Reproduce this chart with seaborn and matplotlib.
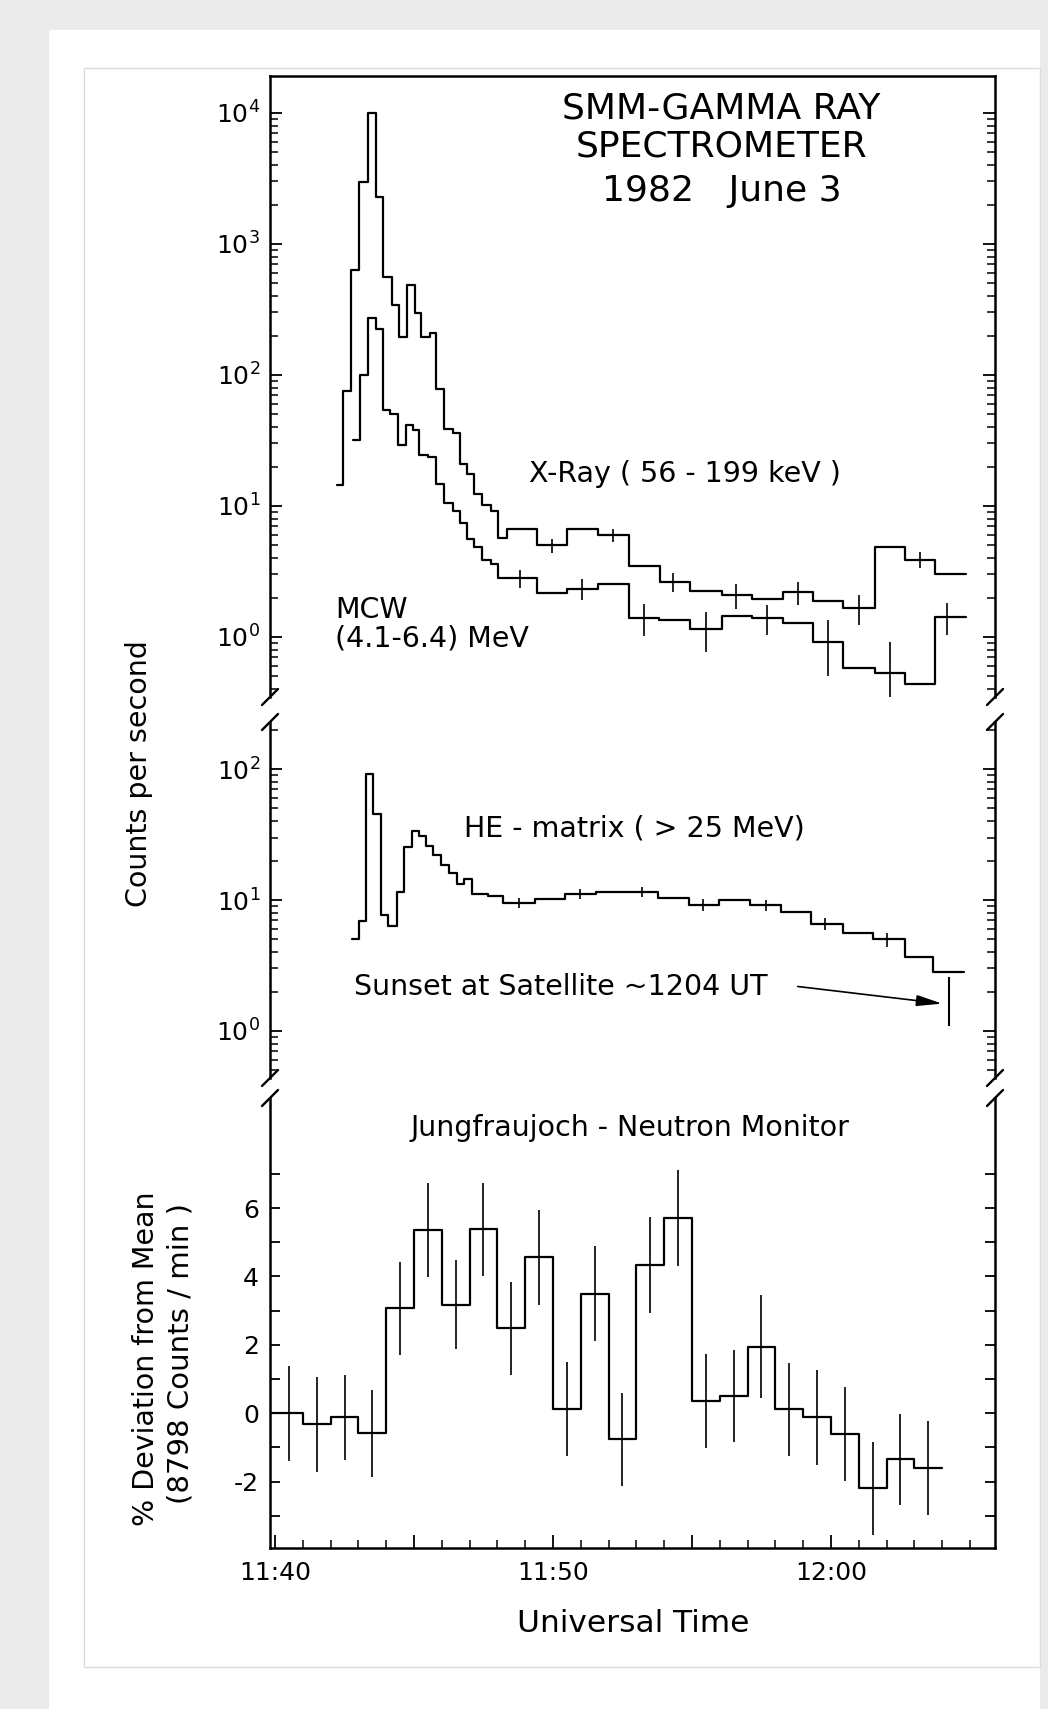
import numpy as np
import pandas as pd
import matplotlib
matplotlib.use("Agg")
import matplotlib.pyplot as plt
import matplotlib.ticker as mticker
from matplotlib.patches import Rectangle
from matplotlib.lines import Line2D
import seaborn as sns

# time axis: minutes after 11:40 UT

# X-Ray (56-199 keV), step edges and counts/s
xray_edges = [2.24, 2.46, 2.72, 3.03, 3.34, 3.63, 3.90, 4.21, 4.47, 4.74, 5.04, 5.25,
              5.58, 5.79, 6.08, 6.39, 6.67, 6.90, 7.17, 7.46, 7.76, 8.03, 8.34, 9.44,
              10.51, 11.63, 12.73, 13.85, 14.93, 16.09, 17.17, 18.28, 19.36, 20.44,
              21.58, 22.66, 23.74, 24.86]
xray_vals = [14.5, 76, 630, 2950, 10000, 2300, 560, 340, 195, 490, 297, 196,
             209, 78, 39, 36, 21, 17.5, 12.3, 10.2, 9.1, 5.7, 6.7, 5.0,
             6.7, 6.0, 3.5, 2.65, 2.24, 2.09, 1.94, 2.19, 1.88, 1.67,
             4.9, 3.9, 3.0]
xray_err_t = [9.95, 12.15, 14.32, 16.57, 18.80, 21.00, 23.20]
xray_err_v = [5.0, 6.0, 2.65, 2.09, 2.19, 1.67, 3.9]
xray_err_s = [0.62, 0.66, 0.45, 0.45, 0.44, 0.44, 0.52]

# MCW (4.1-6.4 MeV)
mcw_edges = [2.80, 3.06, 3.34, 3.63, 3.87, 4.14, 4.44, 4.71, 4.98, 5.19, 5.51, 5.79,
             6.08, 6.39, 6.67, 6.90, 7.17, 7.46, 7.76, 8.03, 9.44, 10.51, 11.63,
             12.75, 13.82, 14.93, 16.09, 17.17, 18.28, 19.36, 20.44, 21.58, 22.66,
             23.74, 24.86]
mcw_vals = [32, 100, 270, 224, 54, 50, 29, 41.5, 38, 24.5, 23.8,
            14.7, 10.5, 9.1, 7.4, 5.6, 4.9, 3.9, 3.6, 2.8, 2.15, 2.33,
            2.52, 1.40, 1.35, 1.16, 1.45, 1.40, 1.29, 0.92, 0.58, 0.53,
            0.44, 1.43]
mcw_err_t = [8.81, 11.03, 13.27, 15.49, 17.69, 19.90, 22.12, 24.16]
mcw_err_v = [2.8, 2.33, 1.40, 1.16, 1.40, 0.92, 0.53, 1.43]
mcw_err_s = [0.44, 0.42, 0.38, 0.39, 0.36, 0.42, 0.38, 0.39]

# HE-matrix (> 25 MeV)
he_edges = [2.78, 3.02, 3.26, 3.54, 3.81, 4.08, 4.40, 4.64, 4.92, 5.18, 5.43, 5.69,
            5.97, 6.27, 6.54, 6.81, 7.10, 7.67, 8.21, 9.35, 10.43, 11.55, 12.66,
            13.79, 14.90, 15.98, 17.09, 18.20, 19.28, 20.42, 21.52, 22.66, 23.68,
            24.78]
he_vals = [5.0, 6.9, 91, 45, 7.7, 6.3, 11.6, 25.5, 33.8, 30.8, 25.8, 22,
           18.6, 16.2, 13.2, 14.5, 11.1, 10.7, 9.5, 10.1, 11.1, 11.6, 11.6,
           10.3, 9.2, 10.0, 9.1, 8.1, 6.6, 5.6, 5.0, 3.7, 2.84]
he_err_t = [8.78, 10.97, 13.20, 15.40, 17.65, 19.80, 22.00]
he_err_v = [9.5, 11.1, 11.6, 9.2, 9.1, 6.6, 5.0]
he_err_s = [0.78, 1.0, 1.0, 0.9, 0.84, 0.66, 0.62]

# Jungfraujoch neutron monitor, % deviation from mean, 1-min bins
nm_edges = [-0.15, 1, 2, 3, 4, 5, 6, 7, 8, 9, 10, 11, 12, 13, 14, 15, 16, 17,
            18, 19, 20, 21, 22, 23, 24]
nm_vals = [0.0, -0.32, -0.12, -0.58, 3.07, 5.36, 3.17, 5.38, 2.49, 4.56, 0.12, 3.49,
           -0.76, 4.34, 5.70, 0.36, 0.51, 1.95, 0.12, -0.12, -0.61, -2.19, -1.35, -1.61]
nm_err_t = [0.5, 1.5, 2.5, 3.5, 4.5, 5.5, 6.5, 7.5, 8.5, 9.5, 10.5, 11.5,
            12.5, 13.5, 14.5, 15.5, 16.5, 17.5, 18.5, 19.5, 20.5, 21.5, 22.5, 23.5]
nm_err_s = [1.39, 1.39, 1.24, 1.27, 1.36, 1.37, 1.30, 1.36, 1.36, 1.38, 1.37, 1.39,
            1.36, 1.40, 1.40, 1.38, 1.34, 1.50, 1.36, 1.38, 1.38, 1.36, 1.33, 1.37]

sunset_t = 24.24
sunset_lo, sunset_hi = 1.09, 2.58

time_ticks = [0, 5, 10, 15, 20]
time_labels = ['11:40', '', '11:50', '', '12:00']

sns.set_theme(style="ticks")
plt.rcParams['font.family'] = ['DejaVu Sans']
plt.rcParams['axes.unicode_minus'] = False
plt.rcParams['axes.linewidth'] = 1.8
for k in ('text.color', 'axes.labelcolor', 'xtick.color', 'ytick.color', 'axes.edgecolor'):
    plt.rcParams[k] = 'black'

W, H = 1048, 1709
fig = plt.figure(figsize=(W / 100, H / 100), dpi=100)
fig.patch.set_facecolor('#ebebeb')
fig.add_artist(Rectangle((49 / W, 0), 991 / W, 1 - 30 / H, transform=fig.transFigure,
                         facecolor='white', edgecolor='none', zorder=-20))
fig.add_artist(Rectangle((84 / W, 1 - 1667 / H), 956 / W, 1599 / H, transform=fig.transFigure,
                         facecolor='none', edgecolor='#dcdcdc', lw=1, zorder=-19))

L, R = 270, 995


def make_ax(top, bottom):
    return fig.add_axes([L / W, 1 - bottom / H, (R - L) / W, (bottom - top) / H], facecolor='none')


ax1 = make_ax(76, 697)
ax2 = make_ax(722, 1078)
ax3 = make_ax(1098, 1548)

xlim = (-0.18, 25.9)


def steps(ax, edges, vals):
    df = pd.DataFrame({'t': edges, 'v': list(vals) + [vals[-1]]})
    sns.lineplot(data=df, x='t', y='v', ax=ax, color='black', lw=1.6,
                 drawstyle='steps-post', estimator=None, sort=False, legend=False)


def errs(ax, t, v, s):
    ax.errorbar(t, v, yerr=s, fmt='none', ecolor='black', elinewidth=1.2, capsize=0)


for ax in (ax1, ax2):
    ax.set_yscale('log')

steps(ax1, xray_edges, xray_vals)
steps(ax1, mcw_edges, mcw_vals)
errs(ax1, xray_err_t, xray_err_v, xray_err_s)
errs(ax1, mcw_err_t, mcw_err_v, mcw_err_s)
ax1.set_ylim(10 ** -0.458, 10 ** 4.282)

steps(ax2, he_edges, he_vals)
errs(ax2, he_err_t, he_err_v, he_err_s)
ax2.set_ylim(10 ** -0.359, 10 ** 2.359)

steps(ax3, nm_edges, nm_vals)
errs(ax3, nm_err_t, nm_vals, nm_err_s)
ax3.set_ylim(-3.94, 9.22)

for ax in (ax1, ax2, ax3):
    ax.set_xlim(*xlim)
    ax.set_xlabel('')
    ax.set_ylabel('')
    ax.spines['left'].set_linewidth(1.8)
    ax.spines['right'].set_linewidth(1.8)

for ax in (ax1, ax2):
    ax.yaxis.set_major_locator(mticker.LogLocator(base=10, numticks=12))
    ax.yaxis.set_minor_locator(mticker.LogLocator(base=10, subs=np.arange(2, 10), numticks=12))
    ax.yaxis.set_minor_formatter(mticker.NullFormatter())
    ax.tick_params(axis='y', which='major', direction='in', left=True, right=True,
                   length=8.5, width=1.3, labelsize=18, pad=7)
    ax.tick_params(axis='y', which='minor', direction='in', left=True, right=True,
                   length=5.5, width=1.1)
    ax.tick_params(axis='x', which='both', bottom=False, top=False, labelbottom=False)
    ax.spines['bottom'].set_visible(False)

ax2.spines['top'].set_visible(False)
ax3.spines['top'].set_visible(False)

ax3.yaxis.set_major_locator(mticker.FixedLocator([-2, 0, 2, 4, 6]))
ax3.yaxis.set_minor_locator(mticker.FixedLocator([-3, -1, 1, 3, 5, 7]))
ax3.tick_params(axis='y', which='both', direction='in', left=True, right=True,
                length=7.5, width=1.3, labelsize=18, pad=8)
ax3.xaxis.set_major_locator(mticker.FixedLocator(time_ticks))
ax3.xaxis.set_major_formatter(mticker.FixedFormatter(time_labels))
ax3.xaxis.set_minor_locator(mticker.FixedLocator(list(range(1, 26))))
ax3.tick_params(axis='x', which='major', direction='in', bottom=True, top=False,
                length=9.5, width=1.3, labelsize=18, pad=9)
ax3.tick_params(axis='x', which='minor', direction='in', bottom=True, top=False,
                length=6, width=1.1)

# texts
ax1.text(0.623, 0.947, 'SMM-GAMMA RAY', transform=ax1.transAxes, ha='center', va='center', fontsize=26)
ax1.text(0.623, 0.886, 'SPECTROMETER', transform=ax1.transAxes, ha='center', va='center', fontsize=26)
ax1.text(0.623, 0.815, '1982   June 3', transform=ax1.transAxes, ha='center', va='center', fontsize=26)
ax1.text(0.572, 0.359, 'X-Ray ( 56 - 199 keV )', transform=ax1.transAxes, ha='center', va='center', fontsize=20.5)
ax1.text(0.090, 0.140, 'MCW', transform=ax1.transAxes, ha='left', va='center', fontsize=20.5)
ax1.text(0.090, 0.095, '(4.1-6.4) MeV', transform=ax1.transAxes, ha='left', va='center', fontsize=20.5)

ax2.text(0.268, 0.702, 'HE - matrix ( > 25 MeV)', transform=ax2.transAxes, ha='left', va='center', fontsize=20.5)
ax2.text(0.116, 0.256, 'Sunset at Satellite ~1204 UT', transform=ax2.transAxes, ha='left', va='center', fontsize=20.5)
ax2.annotate('', xy=(0.931, 0.208), xytext=(0.724, 0.258), xycoords='axes fraction',
             arrowprops=dict(arrowstyle='-|>,head_length=1.3,head_width=0.28', lw=1.2, color='black'))
ax2.vlines(sunset_t, sunset_lo, sunset_hi, color='black', lw=1.5)

ax3.text(0.497, 0.933, 'Jungfraujoch - Neutron Monitor', transform=ax3.transAxes, ha='center', va='center', fontsize=20.5)

fig.text(139 / W, 1 - 774 / H, 'Counts per second', rotation=90, ha='center', va='center', fontsize=20.5)
fig.text(146 / W, 1 - 1359 / H, '% Deviation from Mean', rotation=90, ha='center', va='center', fontsize=20.5)
fig.text(180 / W, 1 - 1354 / H, '(8798 Counts / min )', rotation=90, ha='center', va='center', fontsize=21)
fig.text(633 / W, 1 - 1623 / H, 'Universal Time', ha='center', va='center', fontsize=22.5)

# axis break marks
for yb in (697, 722, 1078, 1098):
    for xb in (L, R):
        fig.add_artist(Line2D([(xb - 8) / W, (xb + 8) / W], [1 - (yb + 8) / H, 1 - (yb - 8) / H],
                              transform=fig.transFigure, color='black', lw=1.7))

fig.savefig('out.png', dpi=100)
